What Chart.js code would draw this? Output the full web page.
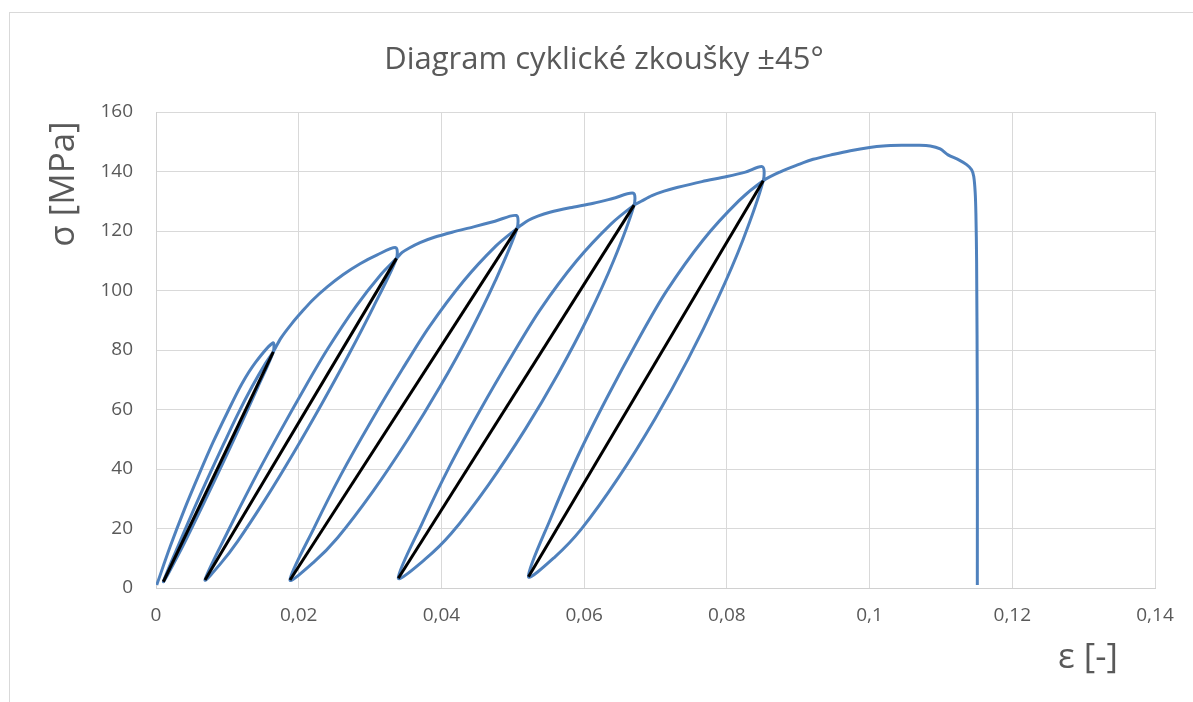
<!DOCTYPE html>
<html>
<head>
<meta charset="utf-8">
<script src="https://cdn.jsdelivr.net/npm/chart.js@4"></script>
<style>
  body { margin: 0; background: #fff; }
  #wrap { position: relative; width: 1193px; height: 702px; overflow: hidden; }
  #frame { position: absolute; left: 9px; top: 12px; width: 1300px; height: 800px; border: 1px solid #d9d9d9; }
  #myChart { position: absolute; left: 0; top: 0; }
</style>
</head>
<body>
<div id="wrap">
  <div id="frame"></div>
  <canvas id="myChart" width="1193" height="702"></canvas>
</div>
<script>
const chartTitle = 'Diagram cyklické zkoušky ±45°';
const xTitle = 'ε [-]';
const yTitle = 'σ [MPa]';

const strainTicks = ['0', '0,02', '0,04', '0,06', '0,08', '0,1', '0,12', '0,14'];
const stressTicks = ['0', '20', '40', '60', '80', '100', '120', '140', '160'];

// [strain, stress] in test order
const firstLoading = [[0.0001, 1.0], [0.0020, 14], [0.0040, 26.5], [0.0060, 38], [0.0080, 49], [0.0100, 59], [0.0120, 68.5], [0.0140, 76], [0.0164, 82.4]];
const cycle1 = [[0.01644, 79.4], [0.01431, 67.8], [0.01212, 56.2], [0.00988, 44.6], [0.00759, 33.0], [0.00526, 21.4], [0.00318, 11.4], [0.00103, 2.1],
  [0.00302, 13.7], [0.00509, 25.3], [0.00726, 36.9], [0.0095, 48.5], [0.01133, 57.8], [0.01349, 67.8], [0.01535, 75.5], [0.01644, 79.4]];
const envelope12 = [[0.0175, 84.0], [0.0190, 88.8], [0.0205, 93.0], [0.0220, 96.9], [0.0240, 101.2], [0.0262, 105.3], [0.0286, 109.0], [0.0310, 112.0], [0.0336, 114.4]];
const cycle2 = [[0.0337, 110.8], [0.03049, 94.6], [0.0270, 78.4], [0.0233, 62.2], [0.0194, 45.9], [0.01529, 29.7], [0.01144, 15.7], [0.00902, 8.1], [0.00687, 2.7],
  [0.01005, 18.9], [0.01345, 35.1], [0.01709, 51.3], [0.02091, 67.6], [0.02409, 80.5], [0.0280, 94.6], [0.03152, 105.4], [0.0337, 110.8]];
const envelope23 = [[0.0345, 112.8], [0.0355, 114.3], [0.0370, 116.1], [0.0390, 117.9], [0.0415, 119.6], [0.0445, 121.4], [0.0475, 123.3], [0.0505, 125.2]];
const cycle3 = [[0.0506, 120.9], [0.04754, 103.2], [0.0439, 85.4], [0.03981, 67.7], [0.03531, 50.0], [0.03035, 32.3], [0.02545, 16.9], [0.02208, 8.6], [0.01878, 2.7],
  [0.02219, 20.4], [0.02595, 38.2], [0.03011, 55.9], [0.03454, 73.6], [0.03829, 87.8], [0.04311, 103.2], [0.04765, 115.0], [0.0506, 120.9]];
const envelope34 = [[0.0512, 122.0], [0.0522, 123.6], [0.0535, 125.0], [0.0552, 126.3], [0.0580, 127.8], [0.0613, 129.3], [0.0640, 130.9], [0.0669, 132.7]];
const cycle4 = [[0.0670, 128.7], [0.06411, 109.9], [0.06054, 91.1], [0.05641, 72.3], [0.05178, 53.5], [0.04659, 34.7], [0.04137, 18.3], [0.03768, 9.6], [0.03396, 3.3],
  [0.03736, 22.1], [0.04114, 40.9], [0.0454, 59.7], [0.04996, 78.5], [0.05385, 93.6], [0.05892, 109.9], [0.06379, 122.4], [0.0670, 128.7]];
const envelope45 = [[0.0680, 130.0], [0.0695, 131.9], [0.0712, 133.4], [0.0730, 134.6], [0.0765, 136.6], [0.0800, 138.3], [0.0826, 139.8], [0.0850, 141.6]];
const cycle5 = [[0.0851, 136.9], [0.08224, 116.9], [0.07868, 97.0], [0.07458, 77.0], [0.06996, 57.0], [0.0648, 37.1], [0.0596, 19.8], [0.05592, 10.5], [0.0522, 3.8],
  [0.05538, 23.8], [0.05899, 43.7], [0.06314, 63.7], [0.06763, 83.7], [0.07149, 99.6], [0.07665, 116.9], [0.0817, 130.2], [0.0851, 136.9]];
const finalBranch = [[0.0875, 139.9], [0.0900, 142.3], [0.0921, 144.1], [0.0950, 145.8], [0.0973, 147.0], [0.1000, 148.1], [0.1019, 148.6], [0.1045, 148.8],
  [0.1066, 148.8], [0.1085, 148.6], [0.1099, 147.6], [0.1110, 145.6], [0.1125, 143.9], [0.1136, 142.3], [0.1143, 140.6], [0.1146, 138.3],
  [0.1148, 133.0], [0.1149, 126.0], [0.1150, 110.0], [0.1151, 60.0], [0.1151, 1.0]];

// secant lines valley -> peak of each cycle
const secantStart = [[0.00103, 2.1], [0.00687, 2.7], [0.01878, 2.7], [0.03396, 3.3], [0.0522, 3.8]];
const secantEnd = [[0.01644, 79.4], [0.0337, 110.8], [0.0506, 120.9], [0.0670, 128.7], [0.0851, 136.9]];

const testCurve = [].concat(firstLoading, cycle1, envelope12, cycle2, envelope23, cycle3, envelope34, cycle4, envelope45, cycle5, finalBranch);

const toXY = p => ({ x: p[0], y: p[1] });

const datasets = [{
  data: testCurve.map(toXY),
  showLine: true,
  borderColor: '#4f81bd',
  borderWidth: 3,
  pointRadius: 0,
  tension: 0.3,
  order: 2
}];

secantStart.forEach((s, i) => {
  datasets.push({
    data: [toXY(s), toXY(secantEnd[i])],
    showLine: true,
    borderColor: '#000000',
    borderWidth: 3,
    pointRadius: 0,
    order: 1
  });
});

const textPlugin = {
  id: 'textPlugin',
  afterDraw(chart) {
    const ctx = chart.ctx;
    ctx.save();
    ctx.fillStyle = '#595959';
    ctx.textAlign = 'center';
    ctx.textBaseline = 'middle';
    ctx.font = '31px "Open Sans"';
    ctx.fillText(chartTitle, 604, 60);
    ctx.font = '35px "Open Sans"';
    ctx.fillText(xTitle, 1088, 658);
    ctx.translate(64, 184);
    ctx.rotate(-Math.PI / 2);
    ctx.fillText(yTitle, 0, 0);
    ctx.restore();
  }
};

const ctx = document.getElementById('myChart');

new Chart(ctx, {
  type: 'scatter',
  data: { datasets: datasets },
  options: {
    responsive: false,
    animation: false,
    layout: { padding: { left: 0, top: 112, right: 38, bottom: 0 } },
    plugins: { legend: { display: false }, tooltip: { enabled: false }, title: { display: false } },
    scales: {
      x: {
        type: 'linear',
        min: 0,
        max: 0.14,
        afterFit: s => { s.height = 114; },
        grid: { color: '#d9d9d9', lineWidth: 1, drawTicks: false },
        border: { color: '#d0d0d0', width: 1 },
        ticks: {
          stepSize: 0.02,
          padding: 16,
          color: '#595959',
          font: { family: 'Open Sans', size: 19 },
          callback: (v, i) => strainTicks[i]
        }
      },
      y: {
        type: 'linear',
        min: 0,
        max: 160,
        afterFit: s => { s.width = 156; },
        grid: { color: '#d9d9d9', lineWidth: 1, drawTicks: false },
        border: { color: '#d0d0d0', width: 1 },
        ticks: {
          stepSize: 20,
          padding: 23,
          color: '#595959',
          font: { family: 'Open Sans', size: 19 },
          callback: (v, i) => stressTicks[i]
        }
      }
    }
  },
  plugins: [textPlugin]
});
</script>
</body>
</html>
